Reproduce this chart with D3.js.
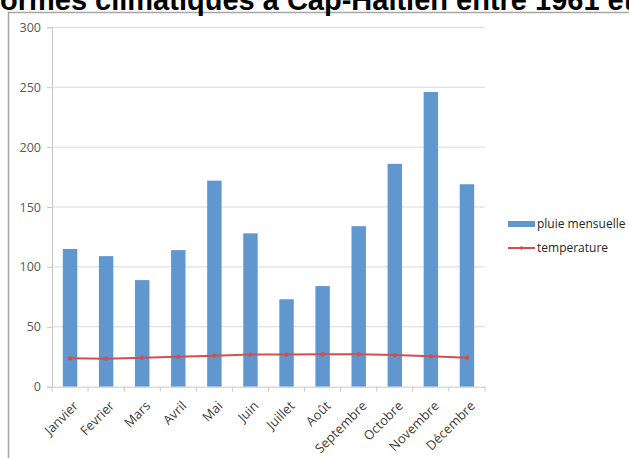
<!DOCTYPE html>
<html>
<head>
<meta charset="utf-8">
<script src="https://cdn.jsdelivr.net/npm/d3@7"></script>
<style>
  body { margin: 0; background: #fff; }
  svg { display: block; font-family: "Open Sans", "Liberation Sans", sans-serif; }
</style>
</head>
<body>
<svg id="vis"></svg>
<script>
const width = 629;
const height = 458;

const months = ['Janvier', 'Fevrier', 'Mars', 'Avril', 'Mai', 'Juin', 'Juillet', 'Août', 'Septembre', 'Octobre', 'Novembre', 'Décembre'];
const pluie = [115, 109, 89, 114, 172, 128, 73, 84, 134, 186, 246, 169];
const temperature = [23.7, 23.4, 24.2, 25.1, 25.9, 26.8, 26.8, 27.1, 27.1, 26.5, 25.4, 24.2];
const yTicks = [0, 50, 100, 150, 200, 250, 300];
const title = 'Normes climatiques à Cap-Haïtien entre 1961 et 1990';

const plot = {left: 52, right: 485, top: 27.3, bottom: 386.7};

const svg = d3.select('#vis').attr('width', width).attr('height', height);

// chart frame
svg.append('rect')
  .attr('x', 8.5).attr('y', 12.5)
  .attr('width', 700).attr('height', 500)
  .attr('fill', 'none')
  .attr('stroke', '#a6a6a6')
  .attr('stroke-width', 1.5);

// title, cut by the top edge as in the source
const titleFont = 29;
const titleText = svg.append('text')
  .attr('y', 9.5)
  .attr('font-family', 'Liberation Sans, Arial, sans-serif')
  .attr('font-weight', 'bold')
  .attr('font-size', titleFont)
  .attr('fill', '#000')
  .text(title);
const probe = svg.append('text')
  .attr('font-family', 'Liberation Sans, Arial, sans-serif')
  .attr('font-weight', 'bold')
  .attr('font-size', titleFont)
  .text('N');
const nWidth = probe.node().getComputedTextLength();
probe.remove();
titleText.attr('x', 0 - nWidth);

const x = d3.scaleBand().domain(months).range([plot.left, plot.right]);
const y = d3.scaleLinear().domain([0, 300]).range([plot.bottom, plot.top]);

// gridlines
svg.append('g')
  .selectAll('line')
  .data(yTicks.filter(d => d > 0))
  .join('line')
  .attr('x1', plot.left).attr('x2', plot.right)
  .attr('y1', d => y(d)).attr('y2', d => y(d))
  .attr('stroke', '#d9d9d9')
  .attr('stroke-width', 1);

// y axis
const yAxis = svg.append('g')
  .attr('transform', `translate(${plot.left},0)`)
  .call(d3.axisLeft(y).tickValues(yTicks).tickSize(5).tickPadding(6));
yAxis.select('.domain').attr('stroke', '#c8c8c8');
yAxis.selectAll('.tick line').attr('stroke', '#c8c8c8');
yAxis.selectAll('.tick text')
  .attr('font-size', 12.5)
  .attr('fill', '#595959')
  .attr('font-family', 'Open Sans, sans-serif');

// bars
const barW = x.bandwidth() * 0.4;
svg.append('g')
  .selectAll('rect')
  .data(months)
  .join('rect')
  .attr('x', d => x(d) + (x.bandwidth() - barW) / 2)
  .attr('width', barW)
  .attr('y', (d, i) => y(pluie[i]))
  .attr('height', (d, i) => y(0) - y(pluie[i]))
  .attr('fill', '#6197cf');

// x axis
const xAxis = svg.append('g')
  .attr('transform', `translate(0,${plot.bottom})`)
  .call(d3.axisBottom(x).tickSize(0).tickFormat(''));
xAxis.select('.domain').attr('stroke', '#c8c8c8');
const bounds = months.map(m => x(m)).concat([plot.right]);
xAxis.selectAll('line.sep')
  .data(bounds)
  .join('line')
  .attr('class', 'sep')
  .attr('x1', d => d).attr('x2', d => d)
  .attr('y1', 0).attr('y2', 5)
  .attr('stroke', '#c8c8c8');
svg.append('g')
  .selectAll('text')
  .data(months)
  .join('text')
  .attr('transform', d => `translate(${x(d) + x.bandwidth() / 2 + 9},${plot.bottom + 20}) rotate(-45)`)
  .attr('text-anchor', 'end')
  .attr('font-size', 13)
  .attr('fill', '#404040')
  .text(d => d);

// temperature line
const line = d3.line()
  .x((d, i) => x(months[i]) + x.bandwidth() / 2)
  .y(d => y(d));
svg.append('path')
  .datum(temperature)
  .attr('d', line)
  .attr('fill', 'none')
  .attr('stroke', '#d0504d')
  .attr('stroke-width', 2);
svg.append('g')
  .selectAll('circle')
  .data(temperature)
  .join('circle')
  .attr('cx', (d, i) => x(months[i]) + x.bandwidth() / 2)
  .attr('cy', d => y(d))
  .attr('r', 2.2)
  .attr('fill', '#d0504d');

// legend
const legend = svg.append('g').attr('transform', 'translate(508,224)');
legend.append('rect')
  .attr('x', 0).attr('y', -3)
  .attr('width', 27).attr('height', 6)
  .attr('fill', '#6197cf');
legend.append('text')
  .attr('x', 29).attr('y', 4)
  .attr('font-size', 12)
  .attr('fill', '#262626')
  .text('pluie mensuelle');
legend.append('line')
  .attr('x1', 0).attr('x2', 27)
  .attr('y1', 24).attr('y2', 24)
  .attr('stroke', '#d0504d')
  .attr('stroke-width', 2);
legend.append('circle')
  .attr('cx', 13.5).attr('cy', 24).attr('r', 1.8)
  .attr('fill', '#d0504d');
legend.append('text')
  .attr('x', 29).attr('y', 28)
  .attr('font-size', 12)
  .attr('fill', '#262626')
  .text('temperature');
</script>
</body>
</html>
